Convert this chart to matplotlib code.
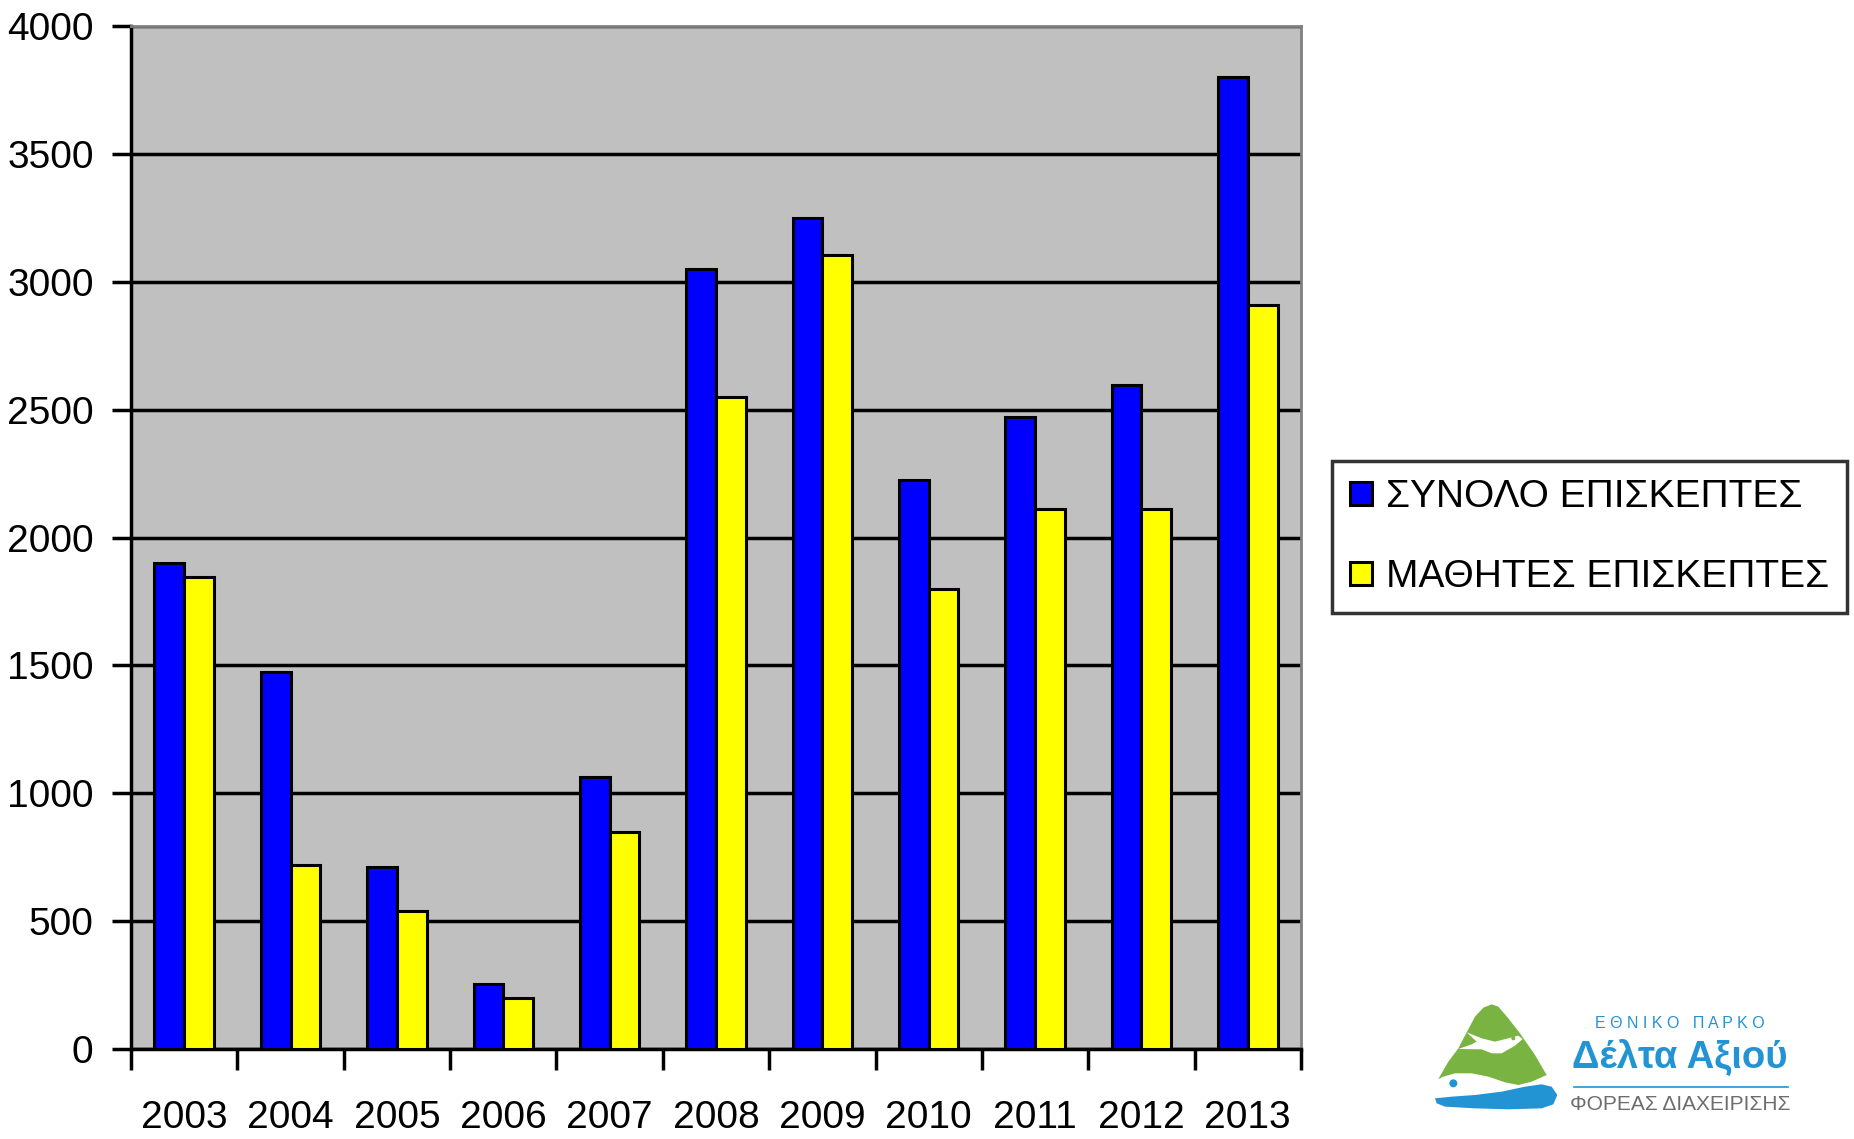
import numpy as np
import matplotlib.pyplot as plt
from matplotlib.patches import Polygon, Ellipse
from matplotlib.lines import Line2D

plt.rcParams['font.family'] = ['Liberation Sans', 'DejaVu Sans']

years = ['2003', '2004', '2005', '2006', '2007', '2008', '2009', '2010', '2011', '2012', '2013']
total_visitors = [1900, 1475, 710, 255, 1065, 3050, 3250, 2225, 2470, 2595, 3800]
student_visitors = [1845, 720, 540, 200, 850, 2550, 3105, 1800, 2110, 2110, 2910]
series_names = ['ΣΥΝΟΛΟ ΕΠΙΣΚΕΠΤΕΣ', 'ΜΑΘΗΤΕΣ ΕΠΙΣΚΕΠΤΕΣ']

fig = plt.figure(figsize=(18.54, 11.39), dpi=100)
ax = fig.add_axes([0.0707, 0.079, 0.631, 0.898])
ax.set_facecolor('#c0c0c0')

x = np.arange(len(years))
w = 0.28
b1 = ax.bar(x - w / 2, total_visitors, w, color='#0000ff', edgecolor='black', linewidth=2.2, zorder=3)
b2 = ax.bar(x + w / 2, student_visitors, w, color='#ffff00', edgecolor='black', linewidth=2.2, zorder=3)

ax.set_xlim(-0.5, len(years) - 0.5)
ax.set_ylim(0, 4000)
ax.set_yticks(np.arange(0, 4001, 500))
ax.yaxis.grid(True, color='black', linewidth=2.5, zorder=1)
ax.set_axisbelow(True)

ax.set_xticks(x)
ax.set_xticklabels(years)
ax.set_xticks(np.arange(-0.5, len(years)), minor=True)
ax.tick_params(axis='x', which='major', length=0, pad=37, labelsize=28)
ax.tick_params(axis='x', which='minor', length=15, width=2.5, direction='out')
ax.tick_params(axis='y', length=14, width=2.5, pad=13, labelsize=28)

for s in ['left', 'bottom']:
    ax.spines[s].set_linewidth(2.5)
    ax.spines[s].set_color('black')
for s in ['top', 'right']:
    ax.spines[s].set_linewidth(2)
    ax.spines[s].set_color('#808080')

leg = fig.legend([b1, b2], series_names, loc='upper left',
                 bbox_to_anchor=(1332 / 1854, 1 - 461 / 1139),
                 fontsize=28, frameon=True, fancybox=False, shadow=False,
                 handlelength=0.56, handleheight=0.56, handletextpad=0.36,
                 labelspacing=1.13, borderpad=0.47, borderaxespad=0)
leg.get_frame().set_edgecolor('black')
leg.get_frame().set_linewidth(2.5)


# logo: shapes given in a local 3x grid anchored at figure pixel (1425, 995)
def lp(X, Y):
    return ((1425 + X / 3) / 1854, 1 - (995 + Y / 3) / 1139)


green = [(40, 252), (70, 200), (100, 160), (125, 112), (150, 65), (175, 38), (200, 28),
         (220, 35), (250, 70), (285, 115), (330, 180), (365, 240), (320, 260), (280, 270),
         (240, 262), (190, 245), (140, 235), (90, 235), (55, 245)]
bird = [(125, 112), (170, 130), (210, 140), (250, 130), (280, 122), (293, 132), (270, 152),
        (230, 175), (200, 175), (170, 163), (100, 162), (140, 148), (155, 140)]
wave = [(30, 310), (80, 305), (150, 300), (230, 290), (300, 275), (350, 268), (380, 275),
        (397, 300), (385, 328), (350, 340), (250, 343), (150, 340), (60, 335), (35, 325)]

fig.patches.append(Polygon([lp(*p) for p in green], closed=True, transform=fig.transFigure,
                           facecolor='#79b443', edgecolor='none'))
fig.patches.append(Polygon([lp(*p) for p in bird], closed=True, transform=fig.transFigure,
                           facecolor='white', edgecolor='none'))
fig.patches.append(Ellipse(lp(265, 130), 4 / 1854, 4 / 1139, transform=fig.transFigure,
                           facecolor='#79b443', edgecolor='none'))
fig.patches.append(Polygon([lp(*p) for p in wave], closed=True, transform=fig.transFigure,
                           facecolor='#2394d3', edgecolor='none'))
fig.patches.append(Ellipse(lp(85, 265), 8 / 1854, 8 / 1139, transform=fig.transFigure,
                           facecolor='#2394d3', edgecolor='none'))


def px(xp, yp):
    return (xp / 1854, 1 - yp / 1139)


fig.text(*px(1680, 1024), 'Ε Θ Ν Ι Κ Ο   Π Α Ρ Κ Ο', color='#2394d3', fontsize=11.5,
         ha='center', va='center')
fig.text(*px(1680, 1058), 'Δέλτα Αξιού', color='#2394d3', fontsize=27.5, fontweight='bold',
         ha='center', va='center')
fig.lines.append(Line2D([1574 / 1854, 1788 / 1854], [1 - 1087 / 1139] * 2,
                        transform=fig.transFigure, color='#2394d3', linewidth=1.2))
fig.text(*px(1680, 1105), 'ΦΟΡΕΑΣ ΔΙΑΧΕΙΡΙΣΗΣ', color='#6d6d6d', fontsize=15,
         ha='center', va='center')

fig.savefig('out.png', dpi=100)
